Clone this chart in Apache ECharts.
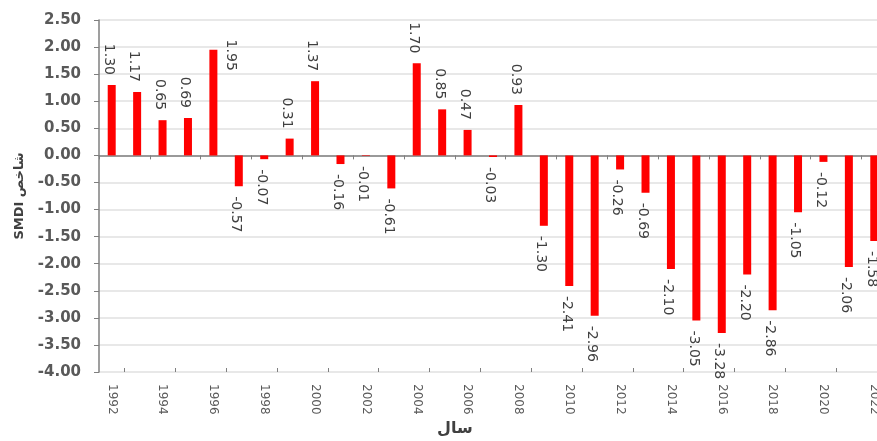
<!DOCTYPE html>
<html>
<head>
<meta charset="utf-8">
<script src="https://cdn.jsdelivr.net/npm/echarts@6/dist/echarts.min.js"></script>
<style>
  html, body { margin: 0; padding: 0; background: #fff; }
  #chart { width: 877px; height: 441px; }
</style>
</head>
<body>
<div id="chart"></div>
<script>
var years = ["1992", "1993", "1994", "1995", "1996", "1997", "1998", "1999", "2000", "2001",
  "2002", "2003", "2004", "2005", "2006", "2007", "2008", "2009", "2010", "2011",
  "2012", "2013", "2014", "2015", "2016", "2017", "2018", "2019", "2020", "2021", "2022"];
var smdi = [1.30, 1.17, 0.65, 0.69, 1.95, -0.57, -0.07, 0.31, 1.37, -0.16,
  -0.01, -0.61, 1.70, 0.85, 0.47, -0.03, 0.93, -1.30, -2.41, -2.96,
  -0.26, -0.69, -2.10, -3.05, -3.28, -2.20, -2.86, -1.05, -0.12, -2.06, -1.58];
var yMin = -4, yMax = 2.5, yStep = 0.5;

var font = "DejaVu Sans";
var chart = echarts.init(document.getElementById("chart"));

// label above for positive, below for negative (rotated like excel)
// note: offset is in the rotated label frame
var barData = smdi.map(function (v, i) {
  var lab = v >= 0
    ? { position: "top", align: "right", offset: [0, 3] }
    : { position: "bottom", align: "left", offset: [0, 3] };
  if (years[i] === "1996") lab.offset = [31, -17]; // excel pushed this one beside the bar
  return { value: v, label: lab };
});

var option = {
  animation: false,
  backgroundColor: "#ffffff",
  // plot runs past the right edge (the picture is cropped there)
  grid: { left: 99, width: 788, top: 20, bottom: 69, outerBoundsMode: "none" },
  xAxis: [
    {
      // zero line + downward ticks
      type: "category",
      data: years,
      position: "bottom",
      axisLine: { onZero: true, lineStyle: { color: "#7f7f7f", width: 1.5 } },
      axisTick: { show: true, length: 4, interval: function (i) { return i % 2 === 0; },
        lineStyle: { color: "#7f7f7f" } },
      axisLabel: { show: false },
      splitLine: { show: false }
    },
    {
      // upward ticks on the zero line
      type: "category",
      data: years,
      position: "bottom",
      axisLine: { show: false, onZero: true },
      axisTick: { show: true, inside: true, length: 4, interval: function (i) { return i % 2 === 1; },
        lineStyle: { color: "#7f7f7f" } },
      axisLabel: { show: false },
      splitLine: { show: false }
    },
    {
      // year labels along the bottom
      type: "category",
      data: years,
      position: "bottom",
      axisLine: { show: false, onZero: false },
      axisTick: { show: false },
      axisLabel: {
        interval: 1, rotate: -90, margin: 12,
        color: "#595959", fontFamily: font, fontSize: 12
      },
      splitLine: { show: false }
    }
  ],
  yAxis: {
    type: "value",
    min: yMin,
    max: yMax,
    interval: yStep,
    name: "SMDI شاخص",
    nameLocation: "middle",
    nameGap: 73,
    nameRotate: 90,
    nameTextStyle: { color: "#404040", fontFamily: font, fontSize: 13, fontWeight: "bold" },
    axisLine: { show: true, lineStyle: { color: "#7f7f7f", width: 1.5 } },
    axisTick: { show: true, length: 5, lineStyle: { color: "#7f7f7f" } },
    axisLabel: {
      margin: 18,
      color: "#595959", fontFamily: font, fontSize: 15, fontWeight: "bold",
      formatter: function (v) { return v.toFixed(2); }
    },
    splitLine: { show: true, lineStyle: { color: "#e0e0e0", width: 1.5 } }
  },
  graphic: [{
    type: "text",
    left: 437,
    top: 421,
    style: { text: "سال", fill: "#404040", font: "bold 16px DejaVu Sans" }
  }],
  series: [{
    type: "bar",
    xAxisIndex: 0,
    data: barData,
    barWidth: 8,
    itemStyle: { color: "#ff0000" },
    label: {
      show: true,
      rotate: -90,
      distance: 10,
      verticalAlign: "middle",
      color: "#404040",
      fontFamily: font,
      fontSize: 14,
      formatter: function (p) { return p.value.toFixed(2); }
    }
  }]
};
chart.setOption(option);
</script>
</body>
</html>
